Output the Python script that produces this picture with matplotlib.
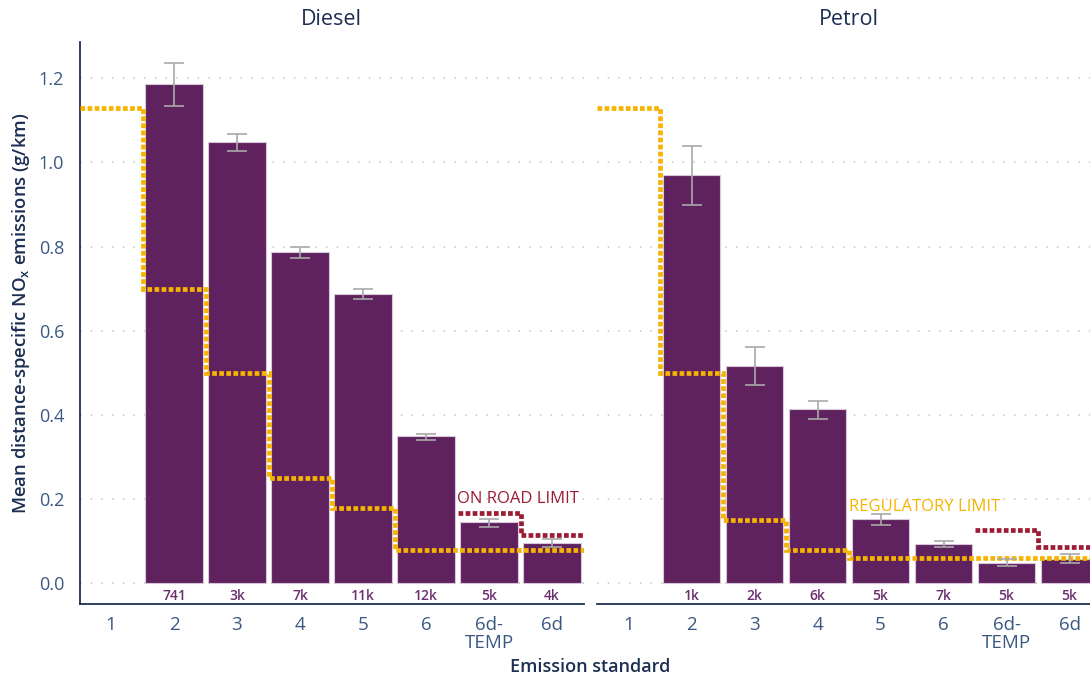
import numpy as np
import matplotlib
matplotlib.use("Agg")
import matplotlib.pyplot as plt

plt.rcParams['font.family'] = ['Open Sans', 'DejaVu Sans']

# Emission standards on the x axis
standards = ["1", "2", "3", "4", "5", "6", "6d-\nTEMP", "6d"]

# Diesel: mean NOx (g/km), 95% interval bounds, sample counts
diesel_mean = [np.nan, 1.186, 1.049, 0.787, 0.687, 0.349, 0.147, 0.097]
diesel_low = [np.nan, 1.133, 1.027, 0.773, 0.676, 0.341, 0.135, 0.086]
diesel_high = [np.nan, 1.236, 1.068, 0.800, 0.698, 0.355, 0.154, 0.105]
diesel_counts = ["", "741", "3k", "7k", "11k", "12k", "5k", "4k"]
diesel_reg_limit = [1.13, 0.70, 0.50, 0.25, 0.18, 0.08, 0.08, 0.08]
diesel_road_limit = [0.168, 0.114]

# Petrol
petrol_mean = [np.nan, 0.970, 0.517, 0.414, 0.154, 0.094, 0.049, 0.058]
petrol_low = [np.nan, 0.899, 0.471, 0.390, 0.140, 0.086, 0.041, 0.048]
petrol_high = [np.nan, 1.039, 0.561, 0.434, 0.164, 0.102, 0.057, 0.071]
petrol_counts = ["", "1k", "2k", "6k", "5k", "7k", "5k", "5k"]
petrol_reg_limit = [1.13, 0.50, 0.15, 0.08, 0.06, 0.06, 0.06, 0.06]
petrol_road_limit = [0.126, 0.086]

yticks = [0.0, 0.2, 0.4, 0.6, 0.8, 1.0, 1.2]

BAR = "#60215f"
BAR_EDGE = "#d8c6da"
YELLOW = "#f6b400"
RED = "#9b1d35"
NAVY = "#1c2f52"
TICK = "#3b5882"
COUNT = "#6b2d6d"

W, H = 1090, 681
fig = plt.figure(figsize=(W / 100, H / 100), dpi=100)

def px_axes(left, right, top, bottom):
    return fig.add_axes([left / W, 1 - bottom / H, (right - left) / W, (bottom - top) / H])

ax_d = px_axes(79.5, 583.5, 42, 604)
ax_p = px_axes(597, 1101, 42, 604)

def draw_panel(ax, title, mean, low, high, counts, reg, road, show_y):
    x = np.arange(len(standards))
    mean = np.array(mean)
    ax.set_xlim(-0.5, len(standards) - 0.5)
    ax.set_ylim(-0.0487, 1.2855)
    for t in yticks:
        ax.axhline(t, color="#c4c4c4", lw=1.1, ls=(0, (1, 6)), zorder=0)
    ax.bar(x, mean, width=0.92, color=BAR, edgecolor=BAR_EDGE, linewidth=0.8, zorder=2)
    ok = ~np.isnan(mean)
    err = np.vstack([mean - np.array(low), np.array(high) - mean])
    ax.errorbar(x[ok], mean[ok], yerr=err[:, ok], fmt="none", ecolor="#a9a9a9",
                elinewidth=1.2, capsize=7, capthick=1.2, zorder=5)
    edges = np.arange(len(standards) + 1) - 0.5
    ax.stairs(reg, edges, baseline=None, color=YELLOW, lw=3.4,
              ls=(0, (1.0, 0.5)), zorder=4)
    ax.stairs(road, edges[-3:], baseline=None, color=RED, lw=3.4,
              ls=(0, (1.0, 0.5)), zorder=4)
    for xi, c in zip(x, counts):
        ax.text(xi, -0.029, c, ha="center", va="center", fontsize=10,
                color=COUNT, fontweight="semibold")
    ax.set_xticks(x)
    ax.set_xticklabels(standards, fontsize=13.5, color=TICK, linespacing=1.0)
    ax.tick_params(axis="x", length=0, pad=9)
    ax.set_title(title, fontsize=15.5, color=NAVY, pad=12, fontweight="medium")
    for s in ("top", "right"):
        ax.spines[s].set_visible(False)
    ax.spines["bottom"].set_color(NAVY)
    ax.spines["bottom"].set_linewidth(1.3)
    if show_y:
        ax.spines["left"].set_color(NAVY)
        ax.spines["left"].set_linewidth(1.3)
        ax.set_yticks(yticks)
        ax.set_yticklabels([f"{t:.1f}" for t in yticks], fontsize=13, color=TICK)
        ax.tick_params(axis="y", length=0, pad=11)
    else:
        ax.spines["left"].set_visible(False)
        ax.set_yticks([])

draw_panel(ax_d, "Diesel", diesel_mean, diesel_low, diesel_high, diesel_counts,
           diesel_reg_limit, diesel_road_limit, True)
draw_panel(ax_p, "Petrol", petrol_mean, petrol_low, petrol_high, petrol_counts,
           petrol_reg_limit, petrol_road_limit, False)

ax_d.text(5.49, 0.2, "ON ROAD LIMIT", color=RED, fontsize=12, ha="left", va="center", zorder=6)
ax_p.text(3.5, 0.181, "REGULATORY LIMIT", color=YELLOW, fontsize=12, ha="left", va="center", zorder=6)

fig.text(21 / W, 1 - 313 / H, "Mean distance-specific NO$_\\mathregular{x}$ emissions (g/km)",
         rotation=90, ha="center", va="center", fontsize=13.3, color=NAVY, fontweight="semibold")
fig.text(590 / W, 1 - 667 / H, "Emission standard", ha="center", va="center",
         fontsize=13, color=NAVY, fontweight="semibold")

fig.savefig("out.png", dpi=100)
